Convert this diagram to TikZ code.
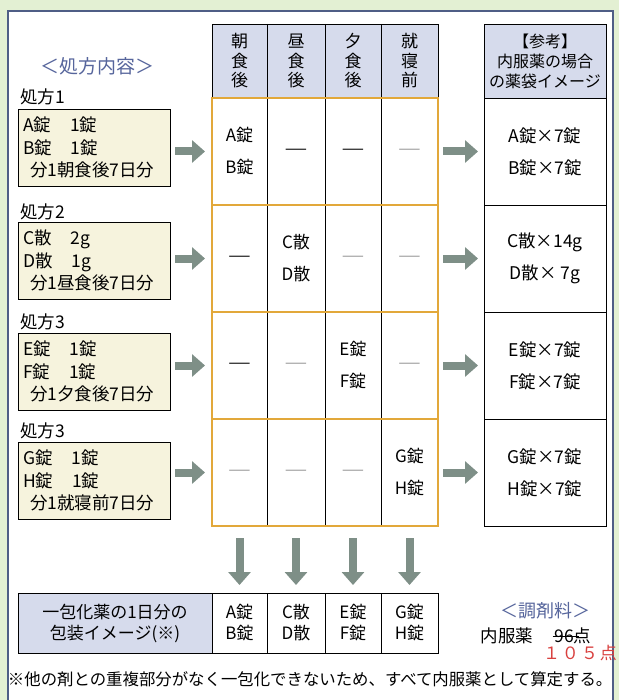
\documentclass[tikz,border=0pt]{standalone}
\usepackage{fontspec}
\setmainfont{Noto Sans CJK JP}
\usetikzlibrary{arrows.meta,calc}
\definecolor{bggreen}{HTML}{E3F0D3}
\definecolor{panelline}{HTML}{4F5E86}
\definecolor{hdrblue}{HTML}{D6DBEC}
\definecolor{boxyellow}{HTML}{F6F3DD}
\definecolor{orangeline}{HTML}{E2A83A}
\definecolor{arrowgray}{HTML}{7E8F87}
\definecolor{titleblue}{HTML}{56659C}
\definecolor{dashgray}{HTML}{9A9A9A}
\definecolor{redtext}{HTML}{D9413F}
\newcommand{\longdash}{\scalebox{1.5}[1]{—}}
\tikzset{
  x=1pt,y=-1pt,
  every node/.style={inner sep=0pt,outer sep=0pt,font=\fontsize{17.5}{21}\selectfont},
  rxbox/.style={draw=black,line width=0.8pt,fill=boxyellow,anchor=north west,minimum width=150pt,minimum height=77pt,align=left,text width=142pt,inner xsep=5pt,font=\fontsize{17.5}{22.5}\selectfont},
  rxlabel/.style={anchor=west},
  cell/.style={minimum width=#1,minimum height=107pt},
  celltxt/.style={align=center,font=\fontsize{17}{32}\selectfont},
  hdrtxt/.style={align=center,font=\fontsize{17}{19.5}\selectfont},
  refbox/.style={draw=black,line width=0.8pt,minimum width=122pt,minimum height=107pt,align=center,font=\fontsize{17.5}{32}\selectfont},
  botcell/.style={draw=black,line width=0.8pt,minimum width=#1,minimum height=60pt,align=center,font=\fontsize{17}{21}\selectfont},
  fatarrow/.style={draw=arrowgray,line width=8pt,-{Triangle[width=22pt,length=13pt]}},
  graydash/.style={text=dashgray},
}
\begin{document}
\begin{tikzpicture}
\useasboundingbox (0,0) rectangle (619,700);
\fill[bggreen] (0,0) rectangle (619,700);
\draw[panelline,line width=1.3pt,fill=white] (8,11) rectangle (613,712);

% title
\node[text=titleblue,font=\fontsize{19}{22}\selectfont] (title) at (97,66) {＜処方内容＞};

% prescription labels and boxes
\node[rxlabel] (l1) at (20,97) {処方1};
\node[rxbox] (p1) at (18,109) {A錠\hspace{19pt}1錠\\B錠\hspace{19pt}1錠\\\hspace{7pt}分1朝食後7日分};
\node[rxlabel] (l2) at (20,212) {処方2};
\node[rxbox] (p2) at (18,222) {C散\hspace{19pt}2g\\D散\hspace{19pt}1g\\\hspace{7pt}分1昼食後7日分};
\node[rxlabel] (l3) at (20,322) {処方3};
\node[rxbox] (p3) at (18,333) {E錠\hspace{19pt}1錠\\F錠\hspace{19pt}1錠\\\hspace{7pt}分1夕食後7日分};
\node[rxlabel] (l4) at (20,431) {処方3};
\node[rxbox] (p4) at (18,442) {G錠\hspace{19pt}1錠\\H錠\hspace{19pt}1錠\\\hspace{7pt}分1就寝前7日分};

% header of table
\fill[hdrblue] (212,24) rectangle (438,98);
\draw[black,line width=0.8pt] (212,98) -- (212,24) -- (438,24) -- (438,98)
  (267,24) -- (267,526) (325,24) -- (325,526) (381,24) -- (381,526);
\node[hdrtxt] (h1) at (239.5,61) {朝\\食\\後};
\node[hdrtxt] (h2) at (296,61) {昼\\食\\後};
\node[hdrtxt] (h3) at (353,61) {夕\\食\\後};
\node[hdrtxt] (h4) at (409.5,61) {就\\寝\\前};

% body cells
\node[cell=55pt] (c11) at (239.5,151.5) {};
\node[cell=58pt] (c12) at (296,151.5) {};
\node[cell=56pt] (c13) at (353,151.5) {};
\node[cell=57pt] (c14) at (409.5,151.5) {};
\node[cell=55pt] (c21) at (239.5,258.5) {};
\node[cell=58pt] (c22) at (296,258.5) {};
\node[cell=56pt] (c23) at (353,258.5) {};
\node[cell=57pt] (c24) at (409.5,258.5) {};
\node[cell=55pt] (c31) at (239.5,365.5) {};
\node[cell=58pt] (c32) at (296,365.5) {};
\node[cell=56pt] (c33) at (353,365.5) {};
\node[cell=57pt] (c34) at (409.5,365.5) {};
\node[cell=55pt] (c41) at (239.5,472.5) {};
\node[cell=58pt] (c42) at (296,472.5) {};
\node[cell=56pt] (c43) at (353,472.5) {};
\node[cell=57pt] (c44) at (409.5,472.5) {};

\draw[orangeline,line width=1.6pt] (212,98) rectangle (438,526)
  (212,205) -- (438,205) (212,312) -- (438,312) (212,419) -- (438,419);

% cell contents
\node[celltxt] at (c11) {A錠\\B錠};
\node[celltxt] at (c12) {\longdash};
\node[celltxt] at (c13) {\longdash};
\node[celltxt,graydash] at (c14) {\longdash};
\node[celltxt] at (c21) {\longdash};
\node[celltxt] at (c22) {C散\\D散};
\node[celltxt,graydash] at (c23) {\longdash};
\node[celltxt,graydash] at (c24) {\longdash};
\node[celltxt] at (c31) {\longdash};
\node[celltxt,graydash] at (c32) {\longdash};
\node[celltxt] at (c33) {E錠\\F錠};
\node[celltxt,graydash] at (c34) {\longdash};
\node[celltxt,graydash] at (c41) {\longdash};
\node[celltxt,graydash] at (c42) {\longdash};
\node[celltxt,graydash] at (c43) {\longdash};
\node[celltxt] at (c44) {G錠\\H錠};

% reference box on the right
\fill[hdrblue] (484,24) rectangle (606,98);
\node[hdrtxt,font=\fontsize{16}{20}\selectfont] (rh) at (545,61) {【参考】\\内服薬の場合\\の薬袋イメージ};
\node[refbox] (r1) at (545,151.5) {A錠×7錠\\B錠×7錠};
\node[refbox] (r2) at (545,258.5) {C散×14g\\D散× 7g};
\node[refbox] (r3) at (545,365.5) {E錠×7錠\\F錠×7錠};
\node[refbox] (r4) at (545,472.5) {G錠×7錠\\H錠×7錠};
\draw[black,line width=0.8pt] (484,24) rectangle (606,98);

% arrows left -> table
\draw[fatarrow,shorten <=5pt,shorten >=7pt] (p1.east |- c11.west) -- (c11.west);
\draw[fatarrow,shorten <=5pt,shorten >=7pt] (p2.east |- c21.west) -- (c21.west);
\draw[fatarrow,shorten <=5pt,shorten >=7pt] (p3.east |- c31.west) -- (c31.west);
\draw[fatarrow,shorten <=5pt,shorten >=7pt] (p4.east |- c41.west) -- (c41.west);
% arrows table -> right
\draw[fatarrow,shorten <=5pt,shorten >=6pt] (c14.east) -- (r1.west);
\draw[fatarrow,shorten <=5pt,shorten >=6pt] (c24.east) -- (r2.west);
\draw[fatarrow,shorten <=5pt,shorten >=6pt] (c34.east) -- (r3.west);
\draw[fatarrow,shorten <=5pt,shorten >=6pt] (c44.east) -- (r4.west);

% bottom table
\node[botcell=194pt,fill=hdrblue] (b0) at (115,623) {一包化薬の1日分の\\包装イメージ(※)};
\node[botcell=55pt] (b1) at (239.5,623) {A錠\\B錠};
\node[botcell=58pt] (b2) at (296,623) {C散\\D散};
\node[botcell=56pt] (b3) at (353,623) {E錠\\F錠};
\node[botcell=57pt] (b4) at (409.5,623) {G錠\\H錠};

% down arrows
\draw[fatarrow,shorten <=12pt,shorten >=8pt] (c41.south) -- (b1.north);
\draw[fatarrow,shorten <=12pt,shorten >=8pt] (c42.south) -- (b2.north);
\draw[fatarrow,shorten <=12pt,shorten >=8pt] (c43.south) -- (b3.north);
\draw[fatarrow,shorten <=12pt,shorten >=8pt] (c44.south) -- (b4.north);

% dispensing fee
\node[text=titleblue,font=\fontsize{18}{22}\selectfont] (fee) at (545,611) {＜調剤料＞};
\node (naifuku) at (507,636) {内服薬};
\node (old) at (573,636) {96点};
\draw[black,line width=1pt] ($(old.west)+(-2,0)$) -- ($(old.east)+(-12,0)$);
\node[text=redtext,anchor=west,font=\fontsize{17}{20}\selectfont] (new) at (543,653) {１\hspace{2pt}０\hspace{2pt}５\hspace{2pt}点};

% footnote
\node[anchor=west,font=\fontsize{16.4}{20}\selectfont] (note) at (8,679) {※他の剤との重複部分がなく一包化できないため、すべて内服薬として算定する。};
\end{tikzpicture}
\end{document}
